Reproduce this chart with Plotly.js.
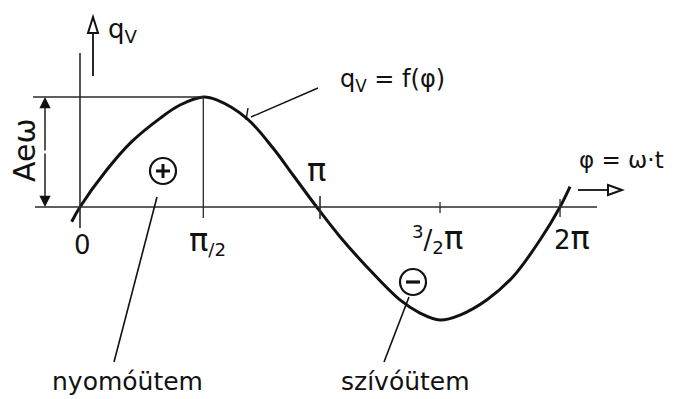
<!DOCTYPE html>
<html>
<head>
<meta charset="utf-8">
<script src="https://cdn.plot.ly/plotly-3.0.1.min.js"></script>
<style>
  html, body { margin: 0; padding: 0; background: #fff; }
  #chart { width: 678px; height: 399px; }
</style>
</head>
<body>
<div id="chart"></div>
<script>
// Volume flow q_V over one crank revolution, phi = omega * t (radians)
const phi = [-0.109, 0, 0.349, 0.677, 1.047, 1.309, 1.614, 1.789, 2.182, 2.526, 2.788, 3.098,
             3.403, 3.753, 4.188, 4.450, 4.712, 4.974, 5.323, 5.668, 6.021, 6.283, 6.414];
const qv  = [-0.134, 0, 0.336, 0.594, 0.806, 0.927, 1.000, 0.973, 0.806, 0.536, 0.291, 0.000,
             -0.270, -0.543, -0.845, -0.964, -1.027, -0.982, -0.845, -0.634, -0.300, 0.000, 0.185];

// Phase ticks along the phi axis
const tickPhi  = [0, Math.PI / 2, Math.PI, 1.5 * Math.PI, 2 * Math.PI];
const PI = '<span style="font-size:32px">π</span>';
const tickText = ['0', PI + '<sub>/2</sub>', PI, '<sup>3</sup>/<sub>2</sub>' + PI, '2' + PI];

// Stroke labels
const strokeLabels = ['nyomóütem', 'szívóütem'];

// Scale: 0 rad at 80 px, 76.4 px per rad; q_V = 0 at 207 px, 110 px per unit
const W = 678, H = 399, X0 = 80, KX = 76.4, Y0 = 207, KY = 110;
const X = px => (px - X0) / KX;
const Y = py => (Y0 - py) / KY;

const ink = '#111';
const thin = '#2a2a2a';
const FONT = 'DejaVu Sans, sans-serif';

// peak of the curve
let iPk = 0;
qv.forEach((v, i) => { if (v > qv[iPk]) iPk = i; });
const pkX = phi[iPk], pkY = qv[iPk];

function line(x0, y0, x1, y1, w, c) {
  return { type: 'line', xref: 'x', yref: 'y', x0, y0, x1, y1,
           line: { color: c || thin, width: w || 1.5 } };
}
function openHead(pts) {
  const d = 'M ' + pts.map(p => X(p[0]) + ',' + Y(p[1])).join(' L ') + ' Z';
  return { type: 'path', xref: 'x', yref: 'y', path: d,
           fillcolor: '#fff', line: { color: ink, width: 2 } };
}

const shapes = [
  // phi axis
  line(X(35), 0, X(597), 0, 1.6),
  // q_V axis
  line(0, Y(53), 0, Y(228), 1.6),
  // amplitude guide and peak drop line
  line(X(33), pkY, pkX, pkY, 1.6),
  line(pkX, pkY, pkX, Y(218), 1.3),
  // tick marks
  line(tickPhi[2], Y(196), tickPhi[2], Y(219), 1.6),
  line(tickPhi[3], Y(202), tickPhi[3], Y(213), 1.3),
  line(tickPhi[4], Y(199), tickPhi[4], Y(217), 1.3),
  // q_V direction arrow
  line(X(93), Y(76), X(93), Y(33), 1.8, ink),
  openHead([[88, 33], [98, 33], [93, 17]]),
  // phi direction arrow
  line(X(578), Y(190), X(608), Y(190), 1.8, ink),
  openHead([[608, 185], [608, 195], [622, 190]]),
  // sign circles
  { type: 'circle', xref: 'x', yref: 'y', x0: X(150), x1: X(176), y0: Y(158), y1: Y(184),
    line: { color: ink, width: 2.2 } },
  { type: 'circle', xref: 'x', yref: 'y', x0: X(400), x1: X(426), y0: Y(269), y1: Y(295),
    line: { color: ink, width: 2.2 } },
  // plus and minus strokes inside the circles
  line(X(156), Y(171), X(170), Y(171), 3, ink),
  line(X(163), Y(164), X(163), Y(178), 3, ink),
  line(X(406), Y(282), X(420), Y(282), 3.2, ink),
  // leader lines
  line(X(157), Y(197), X(114), Y(362), 1.6, ink),
  line(X(409), Y(297), X(384), Y(362), 1.6, ink),
  line(X(318), Y(88), X(251), Y(117), 1.4, ink),
  line(X(248), Y(108), X(246), Y(120), 1.4, ink)
];

function txt(text, px, py, size, extra) {
  return Object.assign({ text, x: X(px), y: Y(py), xref: 'x', yref: 'y', showarrow: false,
    font: { family: FONT, size: size || 22, color: ink }, xanchor: 'center', yanchor: 'middle' }, extra || {});
}

const tickPx = [[82, 245], [207, 240], [316, 170], [437, 238], [572, 238]];
const annotations = [
  txt('q<sub>V</sub>', 123, 30, 26),
  txt('Aeω', 24, 150, 30, { textangle: -90 }),
  txt('q<sub>V</sub> = f(φ)', 392, 80, 24),
  txt('φ = ω·t', 621, 160, 23),
  txt(strokeLabels[0], 127, 381, 25),
  txt(strokeLabels[1], 405, 381, 25),
  // dimension arrows for the amplitude
  { x: X(45), y: pkY, ax: X(45), ay: pkY / 2, xref: 'x', yref: 'y', axref: 'x', ayref: 'y',
    text: '', showarrow: true, arrowhead: 2, arrowsize: 1.6, arrowwidth: 1.4, arrowcolor: ink },
  { x: X(45), y: 0, ax: X(45), ay: pkY / 2, xref: 'x', yref: 'y', axref: 'x', ayref: 'y',
    text: '', showarrow: true, arrowhead: 2, arrowsize: 1.6, arrowwidth: 1.4, arrowcolor: ink }
];
tickText.forEach((t, i) => {
  annotations.push(txt(t, tickPx[i][0], tickPx[i][1], 26));
});

const trace = {
  x: phi, y: qv, type: 'scatter', mode: 'lines',
  line: { color: ink, width: 3, shape: 'spline', smoothing: 1 },
  hoverinfo: 'skip'
};

const layout = {
  width: W, height: H,
  margin: { l: 0, r: 0, t: 0, b: 0 },
  paper_bgcolor: '#fff', plot_bgcolor: '#fff',
  showlegend: false,
  xaxis: { range: [X(0), X(W)], visible: false, fixedrange: true },
  yaxis: { range: [Y(H), Y(0)], visible: false, fixedrange: true },
  shapes, annotations
};

Plotly.newPlot('chart', [trace], layout, { staticPlot: true, displayModeBar: false });
</script>
</body>
</html>
